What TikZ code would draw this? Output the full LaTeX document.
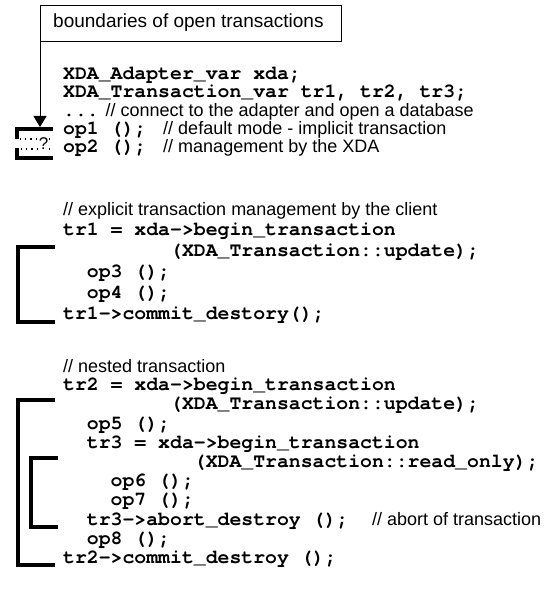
\documentclass[tikz,border=0pt]{standalone}
\usepackage{fontspec}
\setmainfont{Liberation Sans}
\newfontfamily\codefamily{texgyrecursor}[Extension=.otf, UprightFont=*-regular, BoldFont=*-bold]
\newcommand\cd{\codefamily\bfseries\fontsize{19.8}{19.8}\selectfont}
\newcommand\cmt{\rmfamily\mdseries\fontsize{18}{18}\selectfont}
\usetikzlibrary{arrows.meta}

\tikzset{
  code/.style={anchor=base west, inner sep=0pt, font=\cd},
  remark/.style={anchor=base west, inner sep=0pt, font=\cmt},
  bracketline/.style={line width=3.8pt, line cap=butt, line join=miter},
  dotrow/.style={line width=1.3pt, dash pattern=on 1.2pt off 4pt},
}

\begin{document}
\begin{tikzpicture}[x=1pt, y=-1pt]
  \useasboundingbox (0,0) rectangle (547,596);
  \def\xo{63}   % left edge of the code
  \def\cw{11.88} % width of one code column

  % legend box with its pointer
  \node[draw, line width=0.9pt, minimum width=301pt, minimum height=36pt,
        anchor=north west, inner sep=0pt] (legend) at (40,5) {};
  \node[anchor=west, inner sep=0pt, font=\fontsize{19}{19}\selectfont]
        (legendtext) at (53,23) {boundaries of open transactions};
  \coordinate (tip) at (40,127);
  \draw[line width=0.9pt, -{Triangle[length=11pt, width=13pt]}]
        (legend.south west) -- (tip);

  % declarations and implicit transactions
  \node[code] (l1) at (\xo,79.5) {XDA\_Adapter\_var xda;};
  \node[code] (l2) at (\xo,97.8) {XDA\_Transaction\_var tr1, tr2, tr3;};
  \node[code] (l3) at (\xo,116.1) {...\cmt{} // connect to the adapter and open a database};
  \node[code] (l4) at (\xo,134.4) {op1 ();~\cmt{} // default mode - implicit transaction};
  \node[code] (l5) at (\xo,152.7) {op2 ();~\cmt{} // management by the XDA};

  % bracket with unknown extent
  \draw[bracketline] (53,129) -- (16.9,129) -- (16.9,139);
  \draw[bracketline] (53,158) -- (16.9,158) -- (16.9,148);
  \draw[dotrow] (20,139) -- (38,139);
  \draw[dotrow] (21,149) -- (38,149);
  \draw[dotrow] (49,139) -- (54,139);
  \draw[dotrow] (49,149) -- (54,149);
  \node[inner sep=0pt, font=\fontsize{17}{17}\selectfont] (q) at (43.5,144) {?};

  % explicit transaction
  \node[remark] (c2) at (\xo,215) {// explicit transaction management by the client};
  \node[code] (m1) at (\xo,235.5) {tr1 = xda->begin\_transaction};
  \node[code] (m2) at (\xo+9*\cw,256.5) {(XDA\_Transaction::update);};
  \node[code] (m3) at (\xo+2*\cw,277.5) {op3 ();};
  \node[code] (m4) at (\xo+2*\cw,298.5) {op4 ();};
  \node[code] (m5) at (\xo,319.5) {tr1->commit\_destory();};
  \draw[bracketline] (55,247) -| (18,322) -- (55,322);

  % nested transaction
  \node[remark] (c3) at (\xo,372) {// nested transaction};
  \node[code] (n1) at (\xo,390.7) {tr2 = xda->begin\_transaction};
  \node[code] (n2) at (\xo+9*\cw,409.9) {(XDA\_Transaction::update);};
  \node[code] (n3) at (\xo+2*\cw,429.1) {op5 ();};
  \node[code] (n4) at (\xo+2*\cw,448.3) {tr3 = xda->begin\_transaction};
  \node[code] (n5) at (\xo+11*\cw,467.5) {(XDA\_Transaction::read\_only);};
  \node[code] (n6) at (\xo+4*\cw,486.7) {op6 ();};
  \node[code] (n7) at (\xo+4*\cw,505.9) {op7 ();};
  \node[code] (n8) at (\xo+2*\cw,525.1) {tr3->abort\_destroy ();~~\cmt // abort of transaction};
  \node[code] (n9) at (\xo+2*\cw,544.3) {op8 ();};
  \node[code] (n10) at (\xo,563.5) {tr2->commit\_destroy ();};
  \draw[bracketline] (55,400) -| (18,565) -- (55,565);
  \draw[bracketline] (58,458) -| (31,527) -- (58,527);
\end{tikzpicture}
\end{document}
